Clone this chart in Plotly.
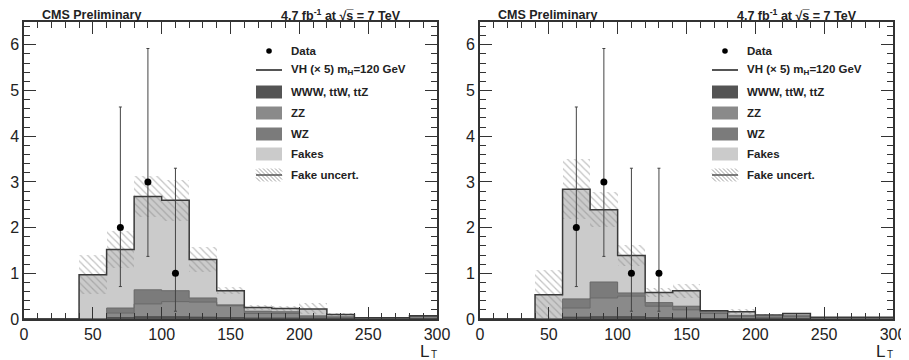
import numpy as np
import plotly.graph_objects as go
from plotly.subplots import make_subplots

# ---------------- data ----------------
bin_edges = list(range(0, 320, 20))          # 0..300, 15 bins of 20
x_ticks = [0, 50, 100, 150, 200, 250, 300]
y_ticks = [0, 1, 2, 3, 4, 5, 6]

# left panel
www_L   = [0, 0, 0.00, 0.03, 0.05, 0.05, 0.04, 0.03, 0.02, 0.02, 0.01, 0.01, 0.00, 0.00, 0.01]
zz_L    = [0, 0, 0.00, 0.10, 0.28, 0.33, 0.33, 0.26, 0.10, 0.10, 0.03, 0.02, 0.01, 0.01, 0.04]
wz_L    = [0, 0, 0.00, 0.11, 0.31, 0.24, 0.09, 0.02, 0.05, 0.04, 0.03, 0.02, 0.01, 0.01, 0.02]
fakes_L = [0, 0, 0.97, 1.28, 2.04, 1.98, 0.84, 0.31, 0.08, 0.07, 0.15, 0.05, 0.01, 0.01, 0.00]
unc_L   = [0, 0, 0.42, 0.40, 0.45, 0.45, 0.27, 0.08, 0.05, 0.05, 0.12, 0.03, 0.01, 0.01, 0.00]
data_x_L = [70, 90, 110]
data_y_L = [2, 3, 1]
data_hi_L = [2.64, 2.92, 2.30]
data_lo_L = [1.29, 1.63, 0.83]

# right panel
www_R   = [0, 0, 0.00, 0.04, 0.05, 0.05, 0.03, 0.02, 0.01, 0.01, 0.01, 0.01, 0.00, 0.00, 0.00]
zz_R    = [0, 0, 0.00, 0.20, 0.41, 0.45, 0.25, 0.18, 0.11, 0.04, 0.02, 0.04, 0.02, 0.02, 0.02]
wz_R    = [0, 0, 0.00, 0.20, 0.35, 0.07, 0.08, 0.08, 0.05, 0.03, 0.02, 0.03, 0.01, 0.01, 0.01]
fakes_R = [0, 0, 0.53, 2.40, 1.58, 0.82, 0.22, 0.34, 0.01, 0.08, 0.04, 0.04, 0.01, 0.01, 0.01]
unc_R   = [0, 0, 0.55, 0.66, 0.38, 0.22, 0.10, 0.15, 0.02, 0.05, 0.01, 0.02, 0.00, 0.00, 0.00]
data_x_R = [70, 90, 110, 130]
data_y_R = [2, 3, 1, 1]
data_hi_R = [2.64, 2.92, 2.30, 2.30]
data_lo_R = [1.29, 1.63, 0.83, 0.83]

legend_labels = ["Data", "VH (\u00d7 5) m<sub>H</sub>=120 GeV", "WWW, ttW, ttZ",
                 "ZZ", "WZ", "Fakes", "Fake uncert."]

# ---------------- styles ----------------
C_WWW = "#545454"
C_ZZ = "#8a8a8a"
C_WZ = "#7b7b7b"
C_FAKE = "#cbcbcb"
C_HATCH = "#888888"
FONT = "Liberation Sans, Arial, sans-serif"

fig = make_subplots(rows=1, cols=2, horizontal_spacing=0.0494)

edges = np.array(bin_edges, dtype=float)
centers = (edges[:-1] + edges[1:]) / 2
width = edges[1] - edges[0]


def step_xy(vals):
    v = list(vals)
    return list(edges), v + [v[-1]]


def add_panel(col, www, zz, wz, fakes, unc, dx, dy, dhi, dlo):
    www = np.array(www); zz = np.array(zz); wz = np.array(wz)
    fakes = np.array(fakes); unc = np.array(unc)
    c1 = www
    c2 = c1 + zz
    c3 = c2 + wz
    tot = c3 + fakes
    layers = [(www, 0 * www, C_WWW), (zz, c1, C_ZZ), (wz, c2, C_WZ), (fakes, c3, C_FAKE)]
    for vals, base, color in layers:
        fig.add_trace(go.Bar(x=centers, y=vals, base=base, width=width,
                             marker=dict(color=color, line=dict(width=0)),
                             showlegend=False, hoverinfo="skip"), row=1, col=col)
    lo = np.clip(tot - unc, 0, None)
    hi = tot + unc
    fig.add_trace(go.Bar(x=centers, y=hi - lo, base=lo, width=width,
                         marker=dict(color="rgba(0,0,0,0)", line=dict(width=0),
                                     pattern=dict(shape="\\", fgcolor=C_HATCH,
                                                  bgcolor="rgba(0,0,0,0)",
                                                  size=5, solidity=0.25,
                                                  fillmode="overlay")),
                         showlegend=False, hoverinfo="skip"), row=1, col=col)
    for vals, color, w in [(c1, "#4a4a4a", 1), (c2, "#6a6a6a", 1), (c3, "#6a6a6a", 1),
                           (tot, "#3a3a3a", 1.5)]:
        sx, sy = step_xy(vals)
        fig.add_trace(go.Scatter(x=sx, y=sy, mode="lines", line_shape="hv",
                                 line=dict(color=color, width=w),
                                 showlegend=False, hoverinfo="skip"), row=1, col=col)
    fig.add_trace(go.Scatter(x=dx, y=dy, mode="markers",
                             marker=dict(color="black", size=7),
                             error_y=dict(type="data", array=dhi, arrayminus=dlo,
                                          color="#444", thickness=1, width=1.5),
                             showlegend=False, hoverinfo="skip"), row=1, col=col)


add_panel(1, www_L, zz_L, wz_L, fakes_L, unc_L, data_x_L, data_y_L, data_hi_L, data_lo_L)
add_panel(2, www_R, zz_R, wz_R, fakes_R, unc_R, data_x_R, data_y_R, data_hi_R, data_lo_R)

axis_common = dict(showline=True, linecolor="#333", linewidth=1.5, mirror="allticks",
                   ticks="inside", tickcolor="#333", tickwidth=1, showgrid=False,
                   zeroline=False, automargin=False,
                   tickfont=dict(family=FONT, size=16, color="#222"))
for col in (1, 2):
    fig.update_xaxes(range=[0, 300], tickvals=x_ticks, ticklen=12,
                     minor=dict(dtick=10, ticklen=6, ticks="inside", tickcolor="#333",
                                showgrid=False),
                     row=1, col=col, **axis_common)
    fig.update_yaxes(range=[0, 6.5], tickvals=y_ticks, ticklen=12,
                     minor=dict(dtick=0.2, ticklen=6, ticks="inside", tickcolor="#333",
                                showgrid=False),
                     row=1, col=col, **axis_common)

# ---------------- layout annotations / legend ----------------
# the page body adds an 8px offset; the figure is sized/placed to compensate
PLOT_W = 413.0
PLOT_H = 297.0
PLOT_BOTTOM = 319.0   # page pixel row of y = 0
annotations = []
shapes = []


def xd(px):
    return px / PLOT_W


def yd(py):
    return (PLOT_BOTTOM - py) / PLOT_H


row_y = [51, 70, 92, 113, 134, 154, 175]
for axn in ("", "2"):
    xr = "x%s domain" % axn
    yr = "y%s domain" % axn
    # titles
    annotations.append(dict(xref=xr, yref=yr, x=xd(16), y=yd(15), xanchor="left",
                            yanchor="middle", showarrow=False,
                            text="<b>CMS Preliminary</b>",
                            font=dict(family=FONT, size=12.5, color="#222")))
    annotations.append(dict(xref=xr, yref=yr, x=xd(379), y=yd(15), xanchor="right",
                            yanchor="middle", showarrow=False,
                            text="<b>4.7 fb<sup>-1</sup> at \u221as\u0305 = 7 TeV</b>",
                            font=dict(family=FONT, size=12.5, color="#222")))
    annotations.append(dict(xref=xr, yref=yr, x=xd(394), y=yd(351), xanchor="left",
                            yanchor="middle", showarrow=False,
                            text="L", font=dict(family=FONT, size=17, color="#222")))
    annotations.append(dict(xref=xr, yref=yr, x=xd(405), y=yd(355), xanchor="left",
                            yanchor="middle", showarrow=False,
                            text="T", font=dict(family=FONT, size=10, color="#222")))
    gx0, gx1, tx = 232, 258, 265
    for i, (lab, py) in enumerate(zip(legend_labels, row_y)):
        annotations.append(dict(xref=xr, yref=yr, x=xd(tx), y=yd(py), xanchor="left",
                                yanchor="middle", showarrow=False, text="<b>%s</b>" % lab,
                                font=dict(family=FONT, size=11.5, color="#222")))
        top, bot = py - 6.5, py + 6.5
        if i == 0:
            shapes.append(dict(type="circle", xref=xr, yref=yr,
                               x0=xd(245 - 2.8), x1=xd(245 + 2.8),
                               y0=yd(py - 2.8), y1=yd(py + 2.8),
                               fillcolor="black", line=dict(width=0)))
        elif i == 1:
            shapes.append(dict(type="line", xref=xr, yref=yr, x0=xd(gx0), x1=xd(gx1),
                               y0=yd(py), y1=yd(py), line=dict(color="#555", width=2)))
        elif i in (2, 3, 4, 5):
            col = [C_WWW, C_ZZ, C_WZ, C_FAKE][i - 2]
            shapes.append(dict(type="rect", xref=xr, yref=yr, x0=xd(gx0), x1=xd(gx1),
                               y0=yd(bot), y1=yd(top), fillcolor=col, line=dict(width=0)))
        else:
            h = 13
            for s in range(-h, gx1 - gx0, 4):
                xa = max(s, 0); xb = min(s + h, gx1 - gx0)
                if xb <= xa:
                    continue
                shapes.append(dict(type="line", xref=xr, yref=yr,
                                   x0=xd(gx0 + xa), x1=xd(gx0 + xb),
                                   y0=yd(top + (xa - s)), y1=yd(top + (xb - s)),
                                   line=dict(color=C_HATCH, width=0.8)))
            shapes.append(dict(type="line", xref=xr, yref=yr, x0=xd(gx0), x1=xd(gx1),
                               y0=yd(py), y1=yd(py), line=dict(color="#555", width=1.5)))

fig.update_layout(width=901, height=352, margin=dict(l=16, r=16, t=14, b=41),
                  paper_bgcolor="white", plot_bgcolor="white", barmode="overlay",
                  bargap=0, showlegend=False, annotations=annotations, shapes=shapes,
                  font=dict(family=FONT))

fig.write_html("out.html")
